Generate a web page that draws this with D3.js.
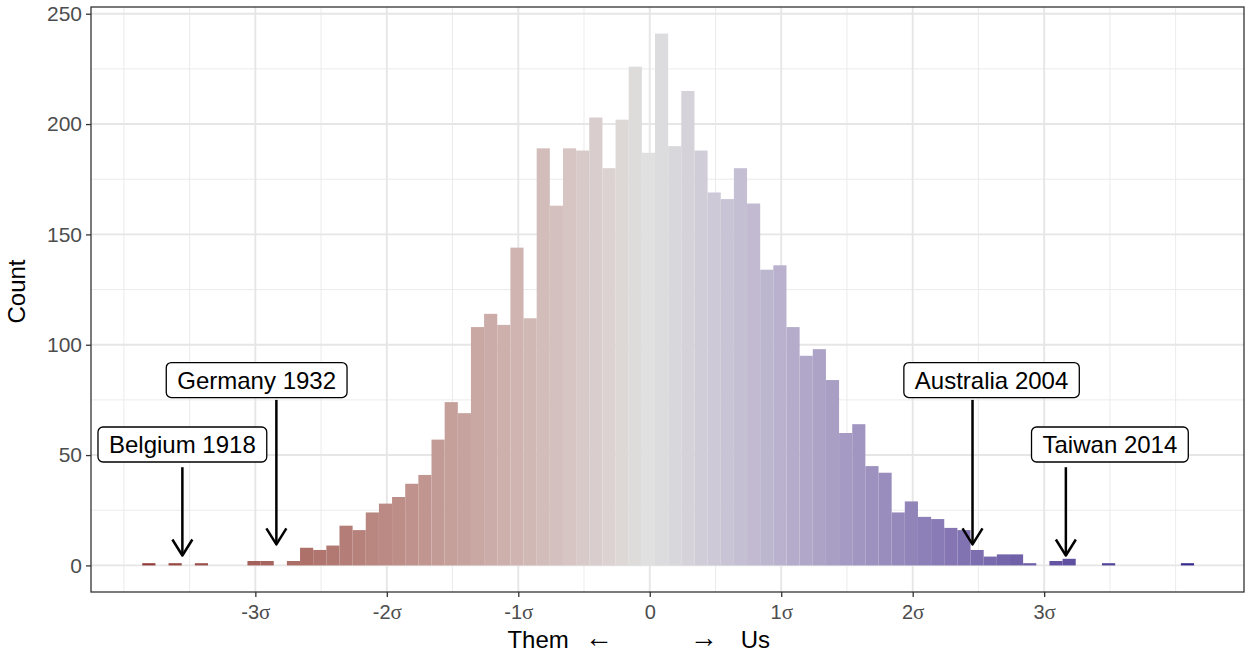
<!DOCTYPE html>
<html>
<head>
<meta charset="utf-8">
<script src="https://cdn.jsdelivr.net/npm/d3@7"></script>
<style>
  body { margin: 0; background: #fff; }
  svg text { font-family: "Liberation Sans", Arial, Helvetica, sans-serif; }
</style>
</head>
<body>
<svg id="chart" width="1250" height="655"></svg>
<script>
    // bin centres (in sd units) and counts
    var binCenters = [-3.81, -3.71, -3.61, -3.51, -3.41, -3.31, -3.21, -3.11, -3.01, -2.91,
                      -2.81, -2.71, -2.61, -2.51, -2.41, -2.31, -2.21, -2.11, -2.01, -1.91,
                      -1.81, -1.71, -1.61, -1.51, -1.41, -1.31, -1.21, -1.11, -1.01, -0.91,
                      -0.81, -0.71, -0.61, -0.51, -0.41, -0.31, -0.21, -0.11, -0.01, 0.09,
                      0.19, 0.29, 0.39, 0.49, 0.59, 0.69, 0.79, 0.89, 0.99, 1.09,
                      1.19, 1.29, 1.39, 1.49, 1.59, 1.69, 1.79, 1.89, 1.99, 2.09,
                      2.19, 2.29, 2.39, 2.49, 2.59, 2.69, 2.79, 2.89, 2.99, 3.09,
                      3.19, 3.29, 3.39, 3.49, 3.59, 3.69, 3.79, 3.89, 3.99, 4.09];
    var counts = [1, 0, 1, 0, 1, 0, 0, 0, 2, 2,
                  0, 2, 8, 7, 9, 18, 16, 24, 28, 31,
                  37, 41, 57, 74, 69, 108, 114, 109, 144, 112,
                  189, 163, 189, 188, 203, 180, 202, 226, 187, 241,
                  190, 215, 188, 169, 166, 180, 164, 134, 136, 108,
                  95, 98, 84, 60, 64, 45, 42, 24, 29, 22,
                  21, 17, 16, 7, 4, 5, 5, 1, 0, 2,
                  3, 0, 0, 1, 0, 0, 0, 0, 0, 1];
    var binWidth = 0.1;

    var xTicks = [-3, -2, -1, 0, 1, 2, 3];
    var xTickLabels = ["-3", "-2", "-1", "0", "1", "2", "3"];
    var xMinor = [-4, -3.5, -2.5, -1.5, -0.5, 0.5, 1.5, 2.5, 3.5, 4];
    var yTicks = [0, 50, 100, 150, 200, 250];
    var yMinor = [25, 75, 125, 175, 225];

    // annotations: label, arrow x, arrow from/to counts, label centre
    var annLabels = ["Belgium 1918", "Germany 1932", "Australia 2004", "Taiwan 2014"];
    var annArrowX = [-3.555, -2.84, 2.455, 3.165];
    var annArrowFrom = [44.5, 75, 75, 44.5];
    var annArrowTo = [4.5, 9.5, 9.5, 4.5];
    var annLabelX = [-3.555, -2.99, 2.60, 3.50];
    var annLabelY = [54.8, 84, 84, 54.8];

    var svg = d3.select("#chart");
    var panel = {left: 91, right: 1244, top: 7, bottom: 592};

    var x = d3.scaleLinear().domain([-4.25, 4.52]).range([panel.left, panel.right]);
    var y = d3.scaleLinear().domain([-12.05, 253.05]).range([panel.bottom, panel.top]);

    var fill = d3.scaleLinear()
                .domain([-4.09, 0, 4.09])
                .range(["#8a3230", "#e0e0e0", "#372c8e"])
                .interpolate(d3.interpolateLab);

    // grid
    var grid = svg.append("g");
    grid.selectAll(".ymin").data(yMinor).enter().append("line")
        .attr("x1", panel.left).attr("x2", panel.right)
        .attr("y1", d => y(d)).attr("y2", d => y(d))
        .attr("stroke", "#ebebeb").attr("stroke-width", 1);
    grid.selectAll(".xmin").data(xMinor).enter().append("line")
        .attr("y1", panel.top).attr("y2", panel.bottom)
        .attr("x1", d => x(d)).attr("x2", d => x(d))
        .attr("stroke", "#ebebeb").attr("stroke-width", 1);
    grid.selectAll(".ymaj").data(yTicks).enter().append("line")
        .attr("x1", panel.left).attr("x2", panel.right)
        .attr("y1", d => y(d)).attr("y2", d => y(d))
        .attr("stroke", "#e6e6e6").attr("stroke-width", 1.9);
    grid.selectAll(".xmaj").data(xTicks).enter().append("line")
        .attr("y1", panel.top).attr("y2", panel.bottom)
        .attr("x1", d => x(d)).attr("x2", d => x(d))
        .attr("stroke", "#e6e6e6").attr("stroke-width", 1.9);

    // bars
    var bins = binCenters.map((c, i) => ({c: c, n: counts[i]}));
    svg.append("g").selectAll("rect")
        .data(bins.filter(d => d.n > 0))
        .enter().append("rect")
        .attr("x", d => x(d.c - binWidth / 2))
        .attr("width", d => x(d.c + binWidth / 2) - x(d.c - binWidth / 2))
        .attr("y", d => y(d.n))
        .attr("height", d => y(0) - y(d.n))
        .attr("fill", d => fill(d.c));

    // annotations
    var ann = svg.append("g");
    annLabels.forEach((lab, i) => {
        var ax = x(annArrowX[i]), y1 = y(annArrowFrom[i]), y2 = y(annArrowTo[i]);
        ann.append("line")
            .attr("x1", ax).attr("x2", ax).attr("y1", y1).attr("y2", y2 - 1)
            .attr("stroke", "#000").attr("stroke-width", 2.5);
        ann.append("path")
            .attr("d", "M" + (ax - 10) + "," + (y2 - 16) + "L" + ax + "," + y2 + "L" + (ax + 10) + "," + (y2 - 16))
            .attr("fill", "none").attr("stroke", "#000").attr("stroke-width", 2.5)
            .attr("stroke-linejoin", "round");

        var g = ann.append("g");
        var t = g.append("text")
            .attr("x", x(annLabelX[i])).attr("y", y(annLabelY[i]))
            .attr("dy", "0.36em")
            .attr("text-anchor", "middle")
            .attr("font-size", 24)
            .attr("fill", "#000")
            .text(lab);
        var bb = t.node().getBBox();
        g.insert("rect", "text")
            .attr("x", bb.x - 11).attr("y", y(annLabelY[i]) - 17.5)
            .attr("width", bb.width + 22).attr("height", 35)
            .attr("rx", 5).attr("ry", 5)
            .attr("fill", "#fff").attr("stroke", "#000").attr("stroke-width", 1.3);
    });

    // panel border
    svg.append("rect")
        .attr("x", panel.left).attr("y", panel.top)
        .attr("width", panel.right - panel.left).attr("height", panel.bottom - panel.top)
        .attr("fill", "none").attr("stroke", "#333").attr("stroke-width", 1.3);

    // axes
    var yAxis = svg.append("g")
        .attr("transform", "translate(" + panel.left + ",0)")
        .call(d3.axisLeft(y).tickValues(yTicks).tickSize(5).tickPadding(4));
    yAxis.select(".domain").remove();
    yAxis.selectAll(".tick line").attr("stroke", "#333").attr("stroke-width", 1.3);
    yAxis.selectAll(".tick text").attr("fill", "#4d4d4d").attr("font-size", 21)
        .attr("font-family", "Liberation Sans, Arial, sans-serif");

    var xAxis = svg.append("g")
        .attr("transform", "translate(0," + panel.bottom + ")")
        .call(d3.axisBottom(x).tickValues(xTicks).tickSize(5).tickPadding(8).tickFormat(""));
    xAxis.select(".domain").remove();
    xAxis.selectAll(".tick line").attr("stroke", "#333").attr("stroke-width", 1.3);
    var xt = xAxis.selectAll(".tick text")
        .attr("fill", "#4d4d4d").attr("font-size", 20)
        .attr("font-family", "Liberation Sans, Arial, sans-serif")
        .text(null);
    xt.each(function(d, i) {
        var el = d3.select(this);
        el.append("tspan").text(xTickLabels[i]);
        if (d !== 0) {
            el.append("tspan").attr("font-family", "Liberation Serif, Times New Roman, serif")
              .attr("font-size", 21).text("\u03C3");
        }
    });

    // axis titles
    svg.append("text")
        .attr("transform", "translate(25," + ((panel.top + panel.bottom) / 2 - 8) + ") rotate(-90)")
        .attr("text-anchor", "middle")
        .attr("font-size", 24)
        .attr("fill", "#000")
        .text("Count");

    var titleY = 648;
    svg.append("text")
        .attr("x", x(0) - 81).attr("y", titleY)
        .attr("text-anchor", "end")
        .attr("font-size", 24).attr("fill", "#000")
        .text("Them");
    svg.append("text")
        .attr("x", x(0) - 51).attr("y", titleY - 1)
        .attr("text-anchor", "middle")
        .attr("font-family", "DejaVu Sans, sans-serif")
        .attr("font-size", 28).attr("fill", "#000")
        .text("\u2190");
    svg.append("text")
        .attr("x", x(0) + 54).attr("y", titleY - 1)
        .attr("text-anchor", "middle")
        .attr("font-family", "DejaVu Sans, sans-serif")
        .attr("font-size", 28).attr("fill", "#000")
        .text("\u2192");
    svg.append("text")
        .attr("x", x(0) + 91).attr("y", titleY)
        .attr("text-anchor", "start")
        .attr("font-size", 24).attr("fill", "#000")
        .text("Us");
</script>
</body>
</html>
